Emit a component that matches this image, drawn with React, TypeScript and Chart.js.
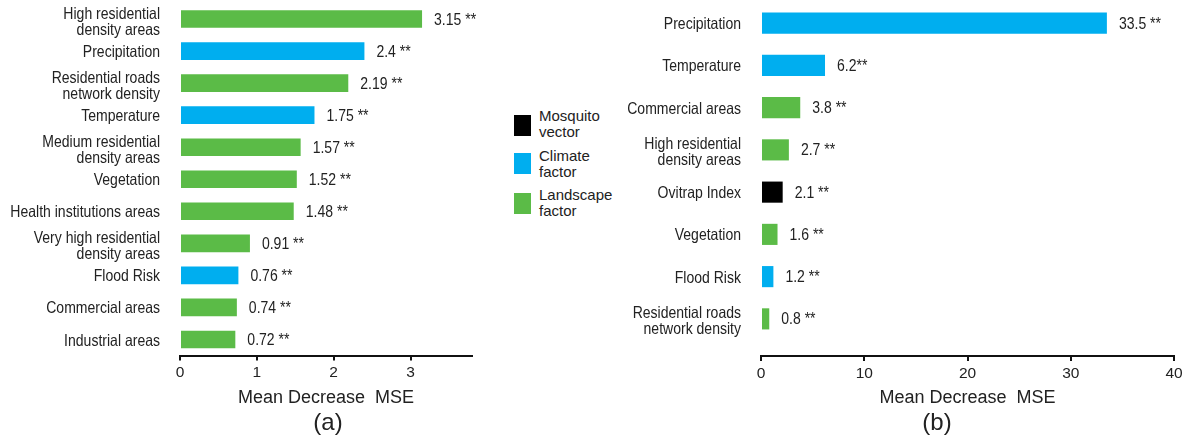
import React, { useEffect, useRef } from 'react';
import { Chart, registerables } from 'chart.js';

Chart.register(...registerables);

// ---------- data ----------
const categoriesA: (string | string[])[] = [
  ['High residential', 'density areas'],
  'Precipitation',
  ['Residential roads', 'network density'],
  'Temperature',
  ['Medium residential', 'density areas'],
  'Vegetation',
  'Health institutions areas',
  ['Very high residential', 'density areas'],
  'Flood Risk',
  'Commercial areas',
  'Industrial areas',
];
const valuesA = [3.15, 2.4, 2.19, 1.75, 1.57, 1.52, 1.48, 0.91, 0.76, 0.74, 0.72];
const groupsA = ['landscape', 'climate', 'landscape', 'climate', 'landscape', 'landscape', 'landscape', 'landscape', 'climate', 'landscape', 'landscape'];
const sigA = [' **', ' **', ' **', ' **', ' **', ' **', ' **', ' **', ' **', ' **', ' **'];

const categoriesB: (string | string[])[] = [
  'Precipitation',
  'Temperature',
  'Commercial areas',
  ['High residential', 'density areas'],
  'Ovitrap Index',
  'Vegetation',
  'Flood Risk',
  ['Residential roads', 'network density'],
];
const valuesB = [33.5, 6.2, 3.8, 2.7, 2.1, 1.6, 1.2, 0.8];
const groupsB = ['climate', 'climate', 'landscape', 'landscape', 'vector', 'landscape', 'climate', 'landscape'];
const sigB = [' **', '**', ' **', ' **', ' **', ' **', ' **', ' **'];

const axisMinA = 0;
const axisMaxA = 3.8;
const axisStepA = 1;
const axisMinB = 0;
const axisMaxB = 40;
const axisStepB = 10;
const axisTitle = 'Mean Decrease  MSE';
const panelLabels = ['(a)', '(b)'];

const legendGroups = ['vector', 'climate', 'landscape'];
const legendLabels = [['Mosquito', 'vector'], ['Climate', 'factor'], ['Landscape', 'factor']];

// ---------- styles ----------
const COLORS: Record<string, string> = {
  vector: '#000000',
  climate: '#00aeef',
  landscape: '#5bbb47',
};
const SANS = "'Liberation Sans', Arial, sans-serif";
const TEXT = '#222222';
const SQUEEZE = 0.85;
const LABEL_FONT = `16.5px ${SANS}`;

function drawSqueezed(ctx: CanvasRenderingContext2D, text: string, x: number, y: number) {
  ctx.save();
  ctx.translate(x, y);
  ctx.scale(SQUEEZE, 1);
  ctx.fillText(text, 0, 0);
  ctx.restore();
}

const valueLabelPlugin = (suffixes: string[]) => ({
  id: 'valueLabels',
  afterDatasetsDraw(chart: any) {
    const ctx = chart.ctx;
    const meta = chart.getDatasetMeta(0);
    const data = chart.data.datasets[0].data as number[];
    ctx.save();
    ctx.font = LABEL_FONT;
    ctx.fillStyle = TEXT;
    ctx.textAlign = 'left';
    ctx.textBaseline = 'middle';
    meta.data.forEach((bar: any, i: number) => {
      drawSqueezed(ctx, String(data[i]) + suffixes[i], bar.x + 12, bar.y + 1);
    });
    ctx.restore();
  },
});

const yLabelPlugin = {
  id: 'yLabels',
  afterDraw(chart: any) {
    const s = chart.scales.y;
    const ctx = chart.ctx;
    const labels = chart.data.labels as (string | string[])[];
    ctx.save();
    ctx.font = LABEL_FONT;
    ctx.fillStyle = TEXT;
    ctx.textAlign = 'right';
    ctx.textBaseline = 'middle';
    s.ticks.forEach((t: any, i: number) => {
      const y = s.getPixelForTick(i);
      const lab = labels[t.value];
      const lines = Array.isArray(lab) ? lab : [lab];
      const lh = 16;
      const shift = lines.length > 1 ? 3 : 1.5;
      lines.forEach((line, j) => {
        const ly = y + shift + (j - (lines.length - 1) / 2) * lh;
        drawSqueezed(ctx, line, s.right - 20, ly);
      });
    });
    ctx.restore();
  },
};

function makeConfig(opts: {
  labels: (string | string[])[];
  values: number[];
  groups: string[];
  suffixes: string[];
  min: number;
  max: number;
  step: number;
  barPct: number;
  yWidth: number;
  padTop: number;
  padRight: number;
  xHeight: number;
  gap: number;
}): any {
  const scales: any = {
    y: {
      grid: { display: false, drawTicks: false },
      border: { display: false },
      ticks: { display: false, autoSkip: false },
      afterFit: (s: any) => {
        s.width = opts.yWidth;
      },
    },
    x: {
      type: 'linear',
      position: 'bottom',
      weight: 1,
      min: opts.min,
      max: opts.max,
      ticks: {
        stepSize: opts.step,
        includeBounds: false,
        padding: 3,
        color: TEXT,
        font: { family: SANS, size: 15.5 },
      },
      grid: {
        display: true,
        drawOnChartArea: false,
        drawTicks: true,
        tickLength: 5,
        color: '#111111',
        lineWidth: 2,
      },
      border: { display: true, color: '#111111', width: 2 },
      title: {
        display: true,
        text: axisTitle,
        color: TEXT,
        font: { family: SANS, size: 18, lineHeight: 1.2 },
        padding: { top: 0, bottom: 38 },
      },
      afterFit: (s: any) => {
        s.height = opts.xHeight;
      },
    },
  };
  if (opts.gap > 0) {
    scales.gap = {
      type: 'linear',
      position: 'bottom',
      weight: 0,
      display: true,
      grid: { display: false, drawTicks: false },
      border: { display: false },
      ticks: { display: false },
      afterFit: (s: any) => {
        s.height = opts.gap;
      },
    };
  }
  return {
    type: 'bar',
    data: {
      labels: opts.labels,
      datasets: [
        {
          data: opts.values,
          backgroundColor: opts.groups.map((g) => COLORS[g]),
          borderWidth: 0,
          barPercentage: opts.barPct,
          categoryPercentage: 1,
        },
      ],
    },
    options: {
      indexAxis: 'y',
      animation: false,
      responsive: false,
      maintainAspectRatio: false,
      devicePixelRatio: 1,
      layout: { padding: { top: opts.padTop, right: opts.padRight, left: 0, bottom: 0 } },
      plugins: { legend: { display: false }, tooltip: { enabled: false } },
      scales,
    },
    plugins: [valueLabelPlugin(opts.suffixes), yLabelPlugin],
  };
}

export default function App() {
  const refA = useRef<HTMLCanvasElement | null>(null);
  const refB = useRef<HTMLCanvasElement | null>(null);

  useEffect(() => {
    const chartA = new Chart(
      refA.current as HTMLCanvasElement,
      makeConfig({
        labels: categoriesA,
        values: valuesA,
        groups: groupsA,
        suffixes: sigA,
        min: axisMinA,
        max: axisMaxA,
        step: axisStepA,
        barPct: 0.55,
        yWidth: 180,
        padTop: 3,
        padRight: 28,
        xHeight: 91.5,
        gap: 0,
      })
    );
    const chartB = new Chart(
      refB.current as HTMLCanvasElement,
      makeConfig({
        labels: categoriesB,
        values: valuesB,
        groups: groupsB,
        suffixes: sigB,
        min: axisMinB,
        max: axisMaxB,
        step: axisStepB,
        barPct: 0.5,
        yWidth: 141,
        padTop: 2,
        padRight: 18,
        xHeight: 91,
        gap: 16,
      })
    );
    return () => {
      chartA.destroy();
      chartB.destroy();
    };
  }, []);

  const legendTops = [108, 148, 187];
  const squareTops = [115, 153, 193];

  return (
    <div
      style={{
        position: 'fixed',
        left: 0,
        top: 0,
        width: 1192,
        height: 447,
        background: '#ffffff',
        overflow: 'hidden',
      }}
    >
      <canvas ref={refA} width={500} height={447} style={{ position: 'absolute', left: 0, top: 0 }} />
      <canvas ref={refB} width={572} height={447} style={{ position: 'absolute', left: 620, top: 0 }} />
      {legendGroups.map((g, i) => (
        <React.Fragment key={g}>
          <div
            style={{
              position: 'absolute',
              left: 514,
              top: squareTops[i],
              width: 17,
              height: 21,
              background: COLORS[g],
            }}
          />
          <div
            style={{
              position: 'absolute',
              left: 539,
              top: legendTops[i],
              fontFamily: SANS,
              fontSize: 15,
              lineHeight: '16px',
              color: TEXT,
            }}
          >
            {legendLabels[i].map((line) => (
              <div key={line}>{line}</div>
            ))}
          </div>
        </React.Fragment>
      ))}
      <div
        style={{
          position: 'absolute',
          left: 288,
          width: 80,
          top: 408,
          textAlign: 'center',
          fontFamily: SANS,
          fontSize: 24,
          lineHeight: '28px',
          color: TEXT,
        }}
      >
        {panelLabels[0]}
      </div>
      <div
        style={{
          position: 'absolute',
          left: 897,
          width: 80,
          top: 408,
          textAlign: 'center',
          fontFamily: SANS,
          fontSize: 24,
          lineHeight: '28px',
          color: TEXT,
        }}
      >
        {panelLabels[1]}
      </div>
    </div>
  );
}
